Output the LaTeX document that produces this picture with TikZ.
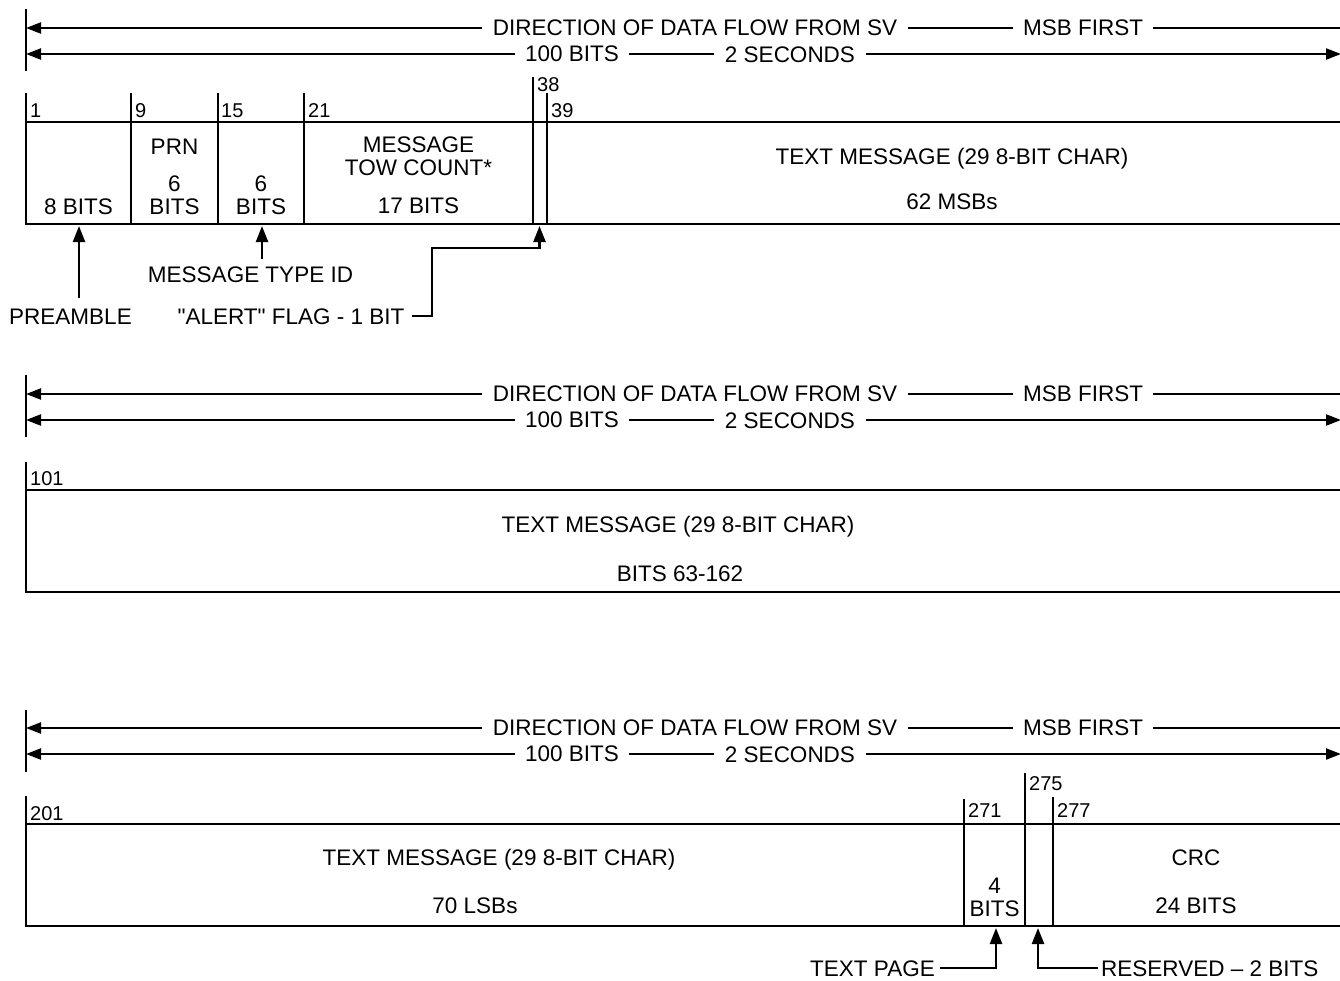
\documentclass[tikz,border=0pt]{standalone}
\usepackage{fontspec}
\setmainfont{Liberation Sans}[Ligatures=TeXOff]
\usetikzlibrary{positioning, arrows.meta}

\tikzset{
  rotulo/.style={inner xsep=11pt, inner ysep=0pt},
  campo/.style={inner sep=0pt, anchor=base},
  numero/.style={inner sep=0pt, anchor=base west, font=\fontsize{20}{20}\selectfont},
  linea/.style={line width=2.2pt},
  flujo/.style={line width=2.2pt, -{Triangle[length=15pt, width=11pt]}},
  caja/.style={line width=2.6pt},
  puntero/.style={line width=2.4pt, -{Triangle[length=16pt, width=12pt]}}
}

\begin{document}
\begin{tikzpicture}[x=1pt, y=-1pt, font=\fontsize{22.5}{22.5}\selectfont]

      \useasboundingbox (0,0) rectangle (1340,980);

      % 1. CABECERAS: dirección del flujo de datos (una por bloque de 100 bits)
      % Bloque 1
      \draw[linea] (26,9) -- (26,71);
      \node[rotulo] (dirA) at (695,28) {DIRECTION OF DATA FLOW FROM SV};
      \node[rotulo, inner xsep=10pt] (msbA) at (1083,28) {MSB FIRST};
      \node[rotulo, inner xsep=10pt] (bitsA) at (572,54) {100 BITS};
      \node[rotulo, inner xsep=11pt] (secA) at (790,55) {2 SECONDS};
      \coordinate (dirAL) at (26,28);
      \coordinate (dirAR) at (1345,28);
      \coordinate (bitsAL) at (26,54);
      \coordinate (secAR) at (1341,54);
      \draw[flujo] (dirA.west) -- (dirAL);
      \draw[linea] (dirA.east) -- (msbA.west);
      \draw[linea] (msbA.east) -- (dirAR);
      \draw[flujo] (bitsA.west) -- (bitsAL);
      \draw[linea] (bitsA.east) -- (bitsA.east -| secA.west);
      \draw[flujo] (secA.east |- secAR) -- (secAR);

      % Bloque 2
      \draw[linea] (26,375) -- (26,437);
      \node[rotulo] (dirB) at (695,394) {DIRECTION OF DATA FLOW FROM SV};
      \node[rotulo, inner xsep=10pt] (msbB) at (1083,394) {MSB FIRST};
      \node[rotulo, inner xsep=10pt] (bitsB) at (572,420) {100 BITS};
      \node[rotulo, inner xsep=11pt] (secB) at (790,421) {2 SECONDS};
      \coordinate (dirBL) at (26,394);
      \coordinate (dirBR) at (1345,394);
      \coordinate (bitsBL) at (26,420);
      \coordinate (secBR) at (1341,420);
      \draw[flujo] (dirB.west) -- (dirBL);
      \draw[linea] (dirB.east) -- (msbB.west);
      \draw[linea] (msbB.east) -- (dirBR);
      \draw[flujo] (bitsB.west) -- (bitsBL);
      \draw[linea] (bitsB.east) -- (bitsB.east -| secB.west);
      \draw[flujo] (secB.east |- secBR) -- (secBR);

      % Bloque 3
      \draw[linea] (26,710) -- (26,772);
      \node[rotulo] (dirC) at (695,728) {DIRECTION OF DATA FLOW FROM SV};
      \node[rotulo, inner xsep=10pt] (msbC) at (1083,728) {MSB FIRST};
      \node[rotulo, inner xsep=10pt] (bitsC) at (572,754) {100 BITS};
      \node[rotulo, inner xsep=11pt] (secC) at (790,755) {2 SECONDS};
      \coordinate (dirCL) at (26,728);
      \coordinate (dirCR) at (1345,728);
      \coordinate (bitsCL) at (26,754);
      \coordinate (secCR) at (1341,754);
      \draw[flujo] (dirC.west) -- (dirCL);
      \draw[linea] (dirC.east) -- (msbC.west);
      \draw[linea] (msbC.east) -- (dirCR);
      \draw[flujo] (bitsC.west) -- (bitsCL);
      \draw[linea] (bitsC.east) -- (bitsC.east -| secC.west);
      \draw[flujo] (secC.east |- secCR) -- (secCR);


      % 2. PALABRA 1 (bits 1-100)
      \draw[caja] (26,93) -- (26,224) -- (1345,224);
      \draw[caja] (26,122) -- (1345,122);
      \draw[caja] (131,93) -- (131,224);
      \draw[caja] (218,93) -- (218,224);
      \draw[caja] (304,93) -- (304,224);
      \draw[caja] (533,77) -- (533,224);
      \draw[caja] (547,93) -- (547,224);

      \node[numero] (n1) at (30,117) {1};
      \node[numero] (n9) at (135,117) {9};
      \node[numero] (n15) at (221,117) {15};
      \node[numero] (n21) at (308,117) {21};
      \node[numero] (n38) at (537,91) {38};
      \node[numero] (n39) at (551,117) {39};

      \node[campo] (preA) at (78.5,214) {8 BITS};
      \node[campo] (prn) at (174.5,154) {PRN};
      \node[campo, anchor=north, align=center] (prnA) at (174.5,176) {6\\BITS};
      \node[campo, anchor=north, align=center] (tipoA) at (261,176) {6\\BITS};
      \node[campo, anchor=north, align=center] (tow) at (418.5,137) {MESSAGE\\TOW COUNT*};
      \node[campo] (towA) at (418.5,213) {17 BITS};
      \node[campo] (txtA) at (952,164) {TEXT MESSAGE (29 8-BIT CHAR)};
      \node[campo] (msbs) at (952,209) {62 MSBs};

      % Flechas de la palabra 1
      \node[campo] (pre) at (70.5,324) {PREAMBLE};
      \node[campo] (mtid) at (250.5,282) {MESSAGE TYPE ID};
      \node[campo] (alert) at (291,324) {"ALERT" FLAG - 1 BIT};
      \coordinate (preTip) at (79,226);
      \coordinate (mtTip) at (262,226);
      \coordinate (alertTip) at (539.5,226);
      \draw[puntero] ([yshift=10pt]preTip |- pre.north) -- (preTip);
      \draw[puntero] ([yshift=7pt]mtTip |- mtid.north) -- (mtTip);
      \draw[puntero] ([xshift=7pt]alert.east) -| (432,248) -| (alertTip);


      % 3. PALABRA 2 (bits 101-200)
      \draw[caja] (26,462) -- (26,592) -- (1345,592);
      \draw[caja] (26,490) -- (1345,490);
      \node[numero] (n101) at (30,485) {101};
      \node[campo] (txtB) at (678,532) {TEXT MESSAGE (29 8-BIT CHAR)};
      \node[campo] (midB) at (680,581) {BITS 63-162};


      % 4. PALABRA 3 (bits 201-300)
      \draw[caja] (26,796) -- (26,926) -- (1345,926);
      \draw[caja] (26,824) -- (1345,824);
      \draw[caja] (964,799) -- (964,926);
      \draw[caja] (1025,773) -- (1025,926);
      \draw[caja] (1053,797) -- (1053,926);

      \node[numero] (n201) at (30,820) {201};
      \node[numero] (n271) at (968,817) {271};
      \node[numero] (n275) at (1029,790) {275};
      \node[numero] (n277) at (1057,817) {277};

      \node[campo] (txtC) at (499,865) {TEXT MESSAGE (29 8-BIT CHAR)};
      \node[campo] (lsbs) at (475,913) {70 LSBs};
      \node[campo, anchor=north, align=center] (pag) at (994.5,878) {4\\BITS};
      \node[campo] (crc) at (1196,865) {CRC};
      \node[campo] (crcA) at (1196,913) {24 BITS};

      % Flechas de la palabra 3
      \node[campo, anchor=base east] (tpage) at (935,976) {TEXT PAGE};
      \node[campo, anchor=base west] (resv) at (1101,976) {RESERVED – 2 BITS};
      \coordinate (tpTip) at (996,928);
      \coordinate (resTip) at (1038,928);
      \draw[puntero] ([xshift=5pt]tpage.east) -| (tpTip);
      \draw[puntero] ([xshift=-3pt]resv.west) -| (resTip);

\end{tikzpicture}
\end{document}
